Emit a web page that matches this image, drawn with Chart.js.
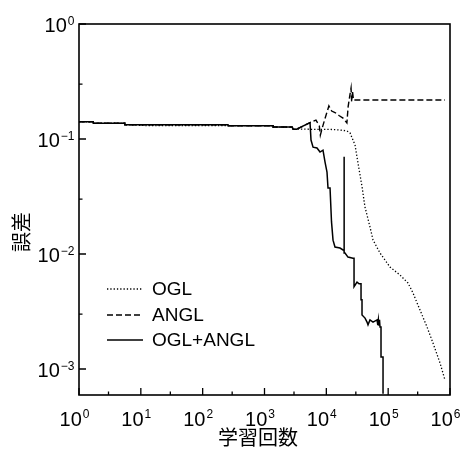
<!DOCTYPE html>
<html>
<head>
<meta charset="utf-8">
<script src="https://cdn.jsdelivr.net/npm/chart.js@4"></script>
<style>
  body { margin: 0; background: #fff; }
  #wrap { width: 461px; height: 449px; }
</style>
</head>
<body>
<div id="wrap"><canvas id="errChart" width="461" height="449"></canvas></div>
<script>
// data (x = 学習回数, y = 誤差)
const oglX = [1, 1.7, 1.7, 5.5, 5.5, 14, 1380, 1380, 2800, 2900, 3700, 5860, 11500, 16600, 21600, 24200, 29100, 32500, 37800, 42200, 50800, 56900, 73800, 107000, 155600, 209000, 252000, 327000, 425000, 531000, 689000, 830000];
const oglY = [0.141, 0.141, 0.137, 0.137, 0.133, 0.1305, 0.1305, 0.127, 0.127, 0.1215, 0.122, 0.1214, 0.1212, 0.1197, 0.1175, 0.1127, 0.0887, 0.0618, 0.0383, 0.0256, 0.0172, 0.01324, 0.0102, 0.0077, 0.00656, 0.0056, 0.00458, 0.00326, 0.00232, 0.00168, 0.00113, 0.0008];

const anglX = [1, 1.7, 1.7, 5.5, 5.5, 257, 257, 1380, 1380, 2800, 2900, 3300, 5450, 6800, 7700, 8000, 8600, 9500, 11000, 12200, 13800, 16000, 18600, 21500, 22500, 24000, 25100, 25700, 26500, 27500, 830000];
const anglY = [0.141, 0.141, 0.137, 0.137, 0.133, 0.133, 0.1305, 0.1305, 0.127, 0.127, 0.1215, 0.1215, 0.1386, 0.146, 0.130, 0.108, 0.125, 0.150, 0.194, 0.175, 0.170, 0.160, 0.152, 0.138, 0.19, 0.24, 0.277, 0.21, 0.26, 0.218, 0.218];

const bothX = [1, 1.7, 1.7, 5.5, 5.5, 257, 257, 1380, 1380, 2800, 2900, 3300, 5450, 5650, 6100, 7060, 7900, 8830, 9530, 10250, 10640, 11480, 12130, 12830, 13800, 16630, 18620, 19320, 19320, 19500, 20050, 22390, 26980, 28060, 28060, 31330, 33810, 36400, 36400, 37760, 37760, 42270, 45500, 47200, 50800, 56900, 66100, 68000, 69500, 71000, 72500, 73800, 76600, 76600, 82600, 82600];
const bothY = [0.141, 0.141, 0.137, 0.137, 0.133, 0.133, 0.1305, 0.1305, 0.127, 0.127, 0.1215, 0.1215, 0.1386, 0.098, 0.085, 0.0836, 0.077, 0.080, 0.063, 0.0516, 0.0375, 0.0375, 0.019, 0.0132, 0.0115, 0.01127, 0.01084, 0.0108, 0.070, 0.0102, 0.0102, 0.0094, 0.0092, 0.0092, 0.0052, 0.0057, 0.0055, 0.0055, 0.0040, 0.0040, 0.00295, 0.00277, 0.00256, 0.00242, 0.00267, 0.00256, 0.00267, 0.00240, 0.00268, 0.00238, 0.00268, 0.00232, 0.00232, 0.00127, 0.00127, 0.00061];

const seriesNames = ['OGL', 'ANGL', 'OGL+ANGL'];

// axis ticks
const xMajor = [1, 10, 100, 1e3, 1e4, 1e5, 1e6];
const xMinor = [3, 30, 300, 3e3, 3e4, 3e5];
const xExp = ['0', '1', '2', '3', '4', '5', '6'];
const yMajor = [1, 0.1, 0.01, 0.001];
const yMinor = [0.3, 0.03, 0.003];
const yExp = ['0', '\u22121', '\u22122', '\u22123'];

const xTitle = '学習回数';
const yTitle = '誤差';

const zip = (xs, ys) => xs.map((x, i) => ({ x: x, y: ys[i] }));

const latin = '"Liberation Sans", Arial, sans-serif';
const cjk = '"Noto Sans CJK JP", sans-serif';

function powLabel(c, x, baseline, exp, align) {
    c.font = '20px ' + latin;
    const wb = c.measureText('10').width;
    c.font = '12px ' + latin;
    const we = c.measureText(exp).width;
    const total = wb + 1 + we;
    let left = align === 'right' ? x - total : x - total / 2;
    c.textAlign = 'left';
    c.textBaseline = 'alphabetic';
    c.font = '20px ' + latin;
    c.fillText('10', left, baseline);
    c.font = '12px ' + latin;
    c.fillText(exp, left + wb + 1, baseline - 7.2);
}

const framePlugin = {
    id: 'frame',
    afterDraw(chart) {
        const c = chart.ctx;
        const a = chart.chartArea;
        const sx = chart.scales.x, sy = chart.scales.y;
        c.save();
        c.strokeStyle = '#000';
        c.fillStyle = '#000';
        c.lineWidth = 1.6;
        c.setLineDash([]);
        c.strokeRect(a.left, a.top, a.right - a.left, a.bottom - a.top);

        // inward ticks
        c.lineWidth = 1.3;
        c.beginPath();
        xMajor.forEach(v => { const p = sx.getPixelForValue(v); c.moveTo(p, a.bottom); c.lineTo(p, a.bottom - 7); });
        xMinor.forEach(v => { const p = sx.getPixelForValue(v); c.moveTo(p, a.bottom); c.lineTo(p, a.bottom - 3.5); });
        yMajor.forEach(v => { const p = sy.getPixelForValue(v); c.moveTo(a.left, p); c.lineTo(a.left + 7, p); });
        yMinor.forEach(v => { const p = sy.getPixelForValue(v); c.moveTo(a.left, p); c.lineTo(a.left + 3.5, p); });
        c.stroke();

        // tick labels
        xMajor.forEach((v, i) => powLabel(c, sx.getPixelForValue(v) - 4.5, a.bottom + 30.5, xExp[i], 'center'));
        yMajor.forEach((v, i) => powLabel(c, a.left - 4.5, sy.getPixelForValue(v) + 8, yExp[i], 'right'));

        // axis titles
        c.font = '20px ' + cjk;
        c.textAlign = 'center';
        c.textBaseline = 'middle';
        c.fillText(xTitle, 258, 437);
        c.translate(21, 232);
        c.rotate(-Math.PI / 2);
        c.fillText(yTitle, 0, 0);
        c.restore();

        // legend
        c.save();
        const rows = [289, 315, 340];
        chart.data.datasets.forEach((ds, i) => {
            c.strokeStyle = '#000';
            c.lineWidth = ds.borderWidth;
            c.setLineDash(ds.borderDash || []);
            c.beginPath();
            c.moveTo(107, rows[i]);
            c.lineTo(143, rows[i]);
            c.stroke();
            c.setLineDash([]);
            c.fillStyle = '#000';
            c.font = '19px ' + latin;
            c.textAlign = 'left';
            c.textBaseline = 'middle';
            c.fillText(ds.label, 152, rows[i] + 1);
        });
        c.restore();
    }
};

new Chart(document.getElementById('errChart').getContext('2d'), {
    type: 'line',
    data: {
        datasets: [{
            label: seriesNames[0],
            data: zip(oglX, oglY),
            borderColor: '#000',
            borderWidth: 1.3,
            borderDash: [1.3, 2],
            pointRadius: 0,
            tension: 0,
            fill: false
        }, {
            label: seriesNames[1],
            data: zip(anglX, anglY),
            borderColor: '#000',
            borderWidth: 1.4,
            borderDash: [6, 3],
            pointRadius: 0,
            tension: 0,
            fill: false
        }, {
            label: seriesNames[2],
            data: zip(bothX, bothY),
            borderColor: '#000',
            borderWidth: 1.5,
            pointRadius: 0,
            tension: 0,
            fill: false
        }]
    },
    options: {
        responsive: false,
        animation: false,
        events: [],
        layout: { padding: { left: 79, right: 11, top: 24, bottom: 54 } },
        scales: {
            x: { type: 'logarithmic', min: 1, max: 1e6, display: false },
            y: { type: 'logarithmic', min: 5.94e-4, max: 1, display: false }
        },
        plugins: {
            legend: { display: false },
            tooltip: { enabled: false }
        }
    },
    plugins: [framePlugin]
});
</script>
</body>
</html>
